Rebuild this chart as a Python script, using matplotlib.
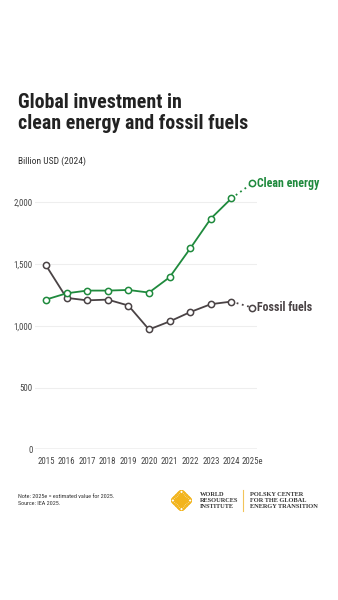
import matplotlib
matplotlib.use("Agg")
import matplotlib.pyplot as plt
from matplotlib import font_manager
import numpy as np

years = ["2015", "2016", "2017", "2018", "2019", "2020", "2021", "2022", "2023", "2024", "2025e"]
clean = [1212, 1263, 1285, 1285, 1290, 1269, 1393, 1626, 1868, 2032, 2153]
fossil = [1490, 1226, 1206, 1212, 1164, 970, 1035, 1111, 1175, 1196, 1148]
yticks = [0, 500, 1000, 1500, 2000]
ytick_labels = ["0", "500", "1,000", "1,500", "2,000"]

GREEN = "#1f8a3d"
GRAY = "#4a4345"
TXT = "#333333"

names = {f.name for f in font_manager.fontManager.ttflist}
cond = next((n for n in ["Roboto Condensed", "Liberation Sans Narrow", "DejaVu Sans Condensed", "Roboto"] if n in names), "DejaVu Sans")
serif = next((n for n in ["Liberation Serif", "DejaVu Serif"] if n in names), "serif")
plt.rcParams["font.family"] = [cond, "DejaVu Sans"]

W, H = 338, 600
fig = plt.figure(figsize=(W / 100, H / 100), dpi=100)

def fx(px):
    return px / W

def fy(py):
    return 1 - py / H

ax_l, ax_r = 35, 257
ax_b, ax_t = 449.3, 171.4
ax = fig.add_axes([fx(ax_l), fy(ax_b), fx(ax_r - ax_l), (ax_b - ax_t) / H])
x = np.arange(len(years))
ax.set_xlim(-0.53, 10.24)
ax.set_ylim(0, 2250)

for v in yticks[1:]:
    ax.axhline(v, color="#eeeeee", lw=0.8, zorder=0)
ax.axhline(0, color="#bbbbbb", lw=1.0, zorder=0)

for vals, col in [(fossil, GRAY), (clean, GREEN)]:
    ax.plot(x[:-1], vals[:-1], color=col, lw=1.3, zorder=2, clip_on=False)
    ax.plot(x[-2:], vals[-2:], color=col, lw=1.3, ls=(0, (1, 2)), zorder=2, clip_on=False)
    ax.plot(x, vals, ls="none", marker="o", ms=4.5, mfc="white", mec=col, mew=1.1, zorder=3, clip_on=False)

ax.text(x[-1] + 0.25, clean[-1], "Clean energy", color=GREEN, fontsize=8.6, fontweight="bold",
        va="center", ha="left", clip_on=False)
ax.text(x[-1] + 0.25, fossil[-1], "Fossil fuels", color=GRAY, fontsize=8.6, fontweight="bold",
        va="center", ha="left", clip_on=False)

ax.set_yticks(yticks)
ax.set_yticklabels(ytick_labels)
ax.set_xticks(x)
ax.set_xticklabels(years)
ax.tick_params(axis="both", length=0, labelsize=6.3, labelcolor="#444444")
ax.tick_params(axis="y", pad=1.5)
ax.tick_params(axis="x", pad=5.5)
for s in ax.spines.values():
    s.set_visible(False)

fig.text(fx(18), fy(113), "Global investment in\nclean energy and fossil fuels", fontsize=14.3,
         fontweight="bold", color="#222222", va="center", ha="left", linespacing=1.15)
fig.text(fx(18), fy(161.5), "Billion USD (2024)", fontsize=6.8, color=TXT, va="center", ha="left")
fig.text(fx(18), fy(500), "Note: 2025e = estimated value for 2025.\nSource: IEA 2025.", fontsize=4.4,
         color=TXT, va="center", ha="left", linespacing=1.45)

# logo
lax = fig.add_axes([fx(171), fy(511), fx(21), 21 / H])
lax.set_xlim(-4.5, 4.5)
lax.set_ylim(-4.5, 4.5)
lax.axis("off")
pts = []
for i in range(4):
    for j in range(4):
        u, v = i - 1.5, j - 1.5
        pts.append((u + v, u - v))
pts = np.array(pts) * 1.05
lax.scatter(pts[:, 0], pts[:, 1], s=14, marker="D", facecolor="none", edgecolor="#f2b41c", lw=1.1)

fig.text(fx(200), fy(500), "WORLD\nRESOURCES\nINSTITUTE", family=serif, fontsize=4.6, fontweight="bold",
         color="#333333", va="center", ha="left", linespacing=1.25)
fig.add_artist(plt.Line2D([fx(243), fx(243)], [fy(490), fy(511)], color="#f2c45a", lw=0.8))
fig.text(fx(250), fy(500), "POLSKY CENTER\nFOR THE GLOBAL\nENERGY TRANSITION", family=serif, fontsize=4.6,
         fontweight="bold", color="#333333", va="center", ha="left", linespacing=1.25)

fig.savefig("out.png", dpi=100)
